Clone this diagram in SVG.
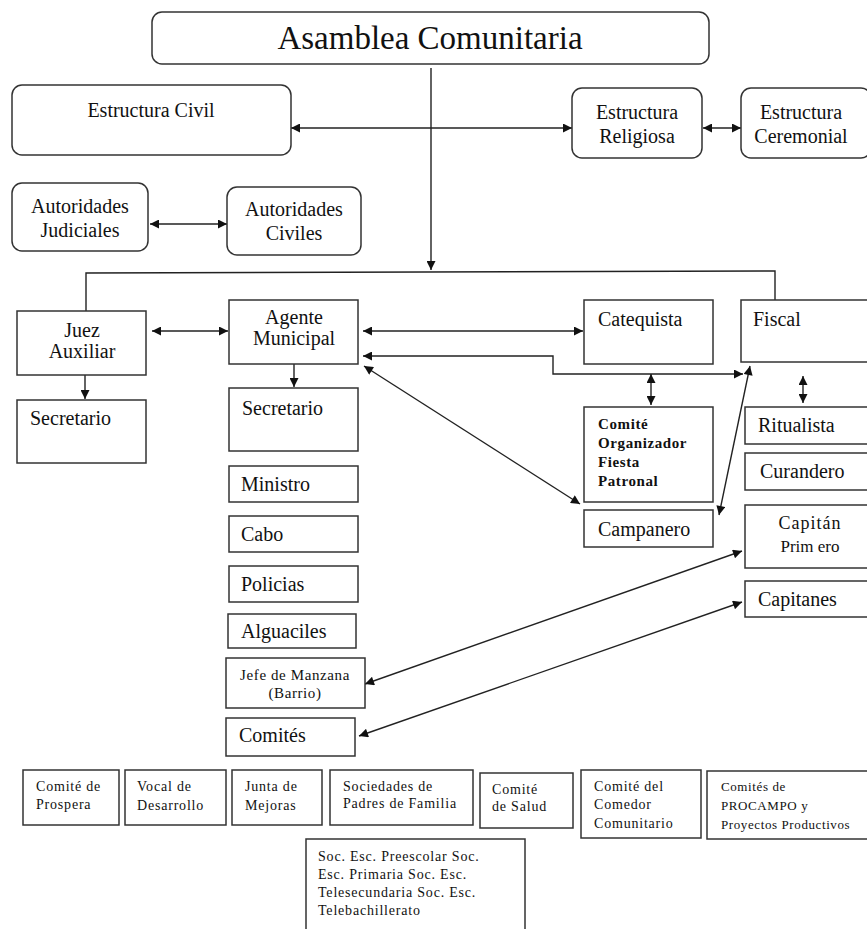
<svg xmlns="http://www.w3.org/2000/svg" width="867" height="929" viewBox="0 0 867 929">
<defs>
<marker id="ah" viewBox="0 0 10 10" refX="10" refY="5" markerWidth="10" markerHeight="9" markerUnits="userSpaceOnUse" orient="auto-start-reverse">
<path d="M0,0 L10,5 L0,10 z" fill="#111"/>
</marker>
<style>
.b{fill:#fff;stroke:#333;stroke-width:1.5}
.t{font-family:"Liberation Serif","Times New Roman",serif;fill:#111}
.c{fill:none;stroke:#222;stroke-width:1.4}
.s{font-size:20px}
.x{font-size:14px;letter-spacing:0.8px}
.bo{font-size:15px;font-weight:bold;letter-spacing:0.6px}
</style>
</defs>
<rect width="867" height="929" fill="#fff"/>
<g id="connectors">
<line class="c" x1="431" y1="68" x2="431" y2="270" marker-end="url(#ah)"/>
<polyline class="c" points="86,311 86,273 775,271 775,300"/>
<line class="c" x1="291" y1="128" x2="572" y2="128" marker-start="url(#ah)" marker-end="url(#ah)"/>
<line class="c" x1="703" y1="128" x2="741" y2="128" marker-start="url(#ah)" marker-end="url(#ah)"/>
<line class="c" x1="150" y1="224" x2="227" y2="224" marker-start="url(#ah)" marker-end="url(#ah)"/>
<line class="c" x1="152" y1="331" x2="228" y2="331" marker-start="url(#ah)" marker-end="url(#ah)"/>
<line class="c" x1="85" y1="375" x2="85" y2="399" marker-end="url(#ah)"/>
<line class="c" x1="294" y1="364" x2="294" y2="387" marker-end="url(#ah)"/>
<line class="c" x1="363" y1="331" x2="583" y2="331" marker-start="url(#ah)" marker-end="url(#ah)"/>
<polyline class="c" points="363,356 553,356 553,374 743,374" marker-start="url(#ah)" marker-end="url(#ah)"/>
<line class="c" x1="364" y1="366" x2="580" y2="504" marker-start="url(#ah)" marker-end="url(#ah)"/>
<line class="c" x1="651" y1="374" x2="651" y2="405" marker-start="url(#ah)" marker-end="url(#ah)"/>
<line class="c" x1="750" y1="366" x2="719" y2="515" marker-start="url(#ah)" marker-end="url(#ah)"/>
<line class="c" x1="803" y1="376" x2="803" y2="403" marker-start="url(#ah)" marker-end="url(#ah)"/>
<line class="c" x1="742" y1="551" x2="365" y2="684" marker-start="url(#ah)" marker-end="url(#ah)"/>
<line class="c" x1="742" y1="602" x2="359" y2="736" marker-start="url(#ah)" marker-end="url(#ah)"/>
</g>
<g id="asamblea"><rect class="b" x="152" y="12" width="557" height="52" rx="10"/><text class="t" x="430" y="49" text-anchor="middle" font-size="33">Asamblea Comunitaria</text></g>
<g id="estructura-civil"><rect class="b" x="12" y="85" width="279" height="70" rx="10"/><text class="t s" x="151" y="117" text-anchor="middle">Estructura Civil</text></g>
<g id="estructura-religiosa"><rect class="b" x="572" y="88" width="130" height="70" rx="10"/><text class="t s" x="637" y="119" text-anchor="middle">Estructura</text><text class="t s" x="637" y="143" text-anchor="middle">Religiosa</text></g>
<g id="estructura-ceremonial"><rect class="b" x="741" y="88" width="130" height="70" rx="10"/><text class="t s" x="801" y="119" text-anchor="middle">Estructura</text><text class="t s" x="801" y="143" text-anchor="middle">Ceremonial</text></g>
<g id="autoridades-judiciales"><rect class="b" x="12" y="183" width="136" height="68" rx="10"/><text class="t s" x="80" y="213" text-anchor="middle">Autoridades</text><text class="t s" x="80" y="237" text-anchor="middle">Judiciales</text></g>
<g id="autoridades-civiles"><rect class="b" x="227" y="187" width="134" height="68" rx="10"/><text class="t s" x="294" y="216" text-anchor="middle">Autoridades</text><text class="t s" x="294" y="240" text-anchor="middle">Civiles</text></g>
<g id="juez-auxiliar"><rect class="b" x="17" y="311" width="129" height="64"/><text class="t s" x="82" y="337" text-anchor="middle">Juez</text><text class="t s" x="82" y="358" text-anchor="middle">Auxiliar</text></g>
<g id="agente-municipal"><rect class="b" x="229" y="300" width="129" height="64"/><text class="t s" x="294" y="324" text-anchor="middle">Agente</text><text class="t s" x="294" y="345" text-anchor="middle">Municipal</text></g>
<g id="secretario-juez"><rect class="b" x="17" y="400" width="129" height="63"/><text class="t s" x="30" y="425">Secretario</text></g>
<g id="secretario-agente"><rect class="b" x="229" y="388" width="129" height="63"/><text class="t s" x="242" y="415">Secretario</text></g>
<g id="ministro"><rect class="b" x="229" y="466" width="129" height="36"/><text class="t s" x="241" y="491">Ministro</text></g>
<g id="cabo"><rect class="b" x="229" y="516" width="129" height="36"/><text class="t s" x="241" y="541">Cabo</text></g>
<g id="policias"><rect class="b" x="229" y="566" width="129" height="36"/><text class="t s" x="241" y="591">Policias</text></g>
<g id="alguaciles"><rect class="b" x="228" y="614" width="128" height="34"/><text class="t s" x="241" y="638">Alguaciles</text></g>
<g id="jefe-manzana"><rect class="b" x="226" y="658" width="139" height="50"/><text class="t" font-size="15" letter-spacing="0.6" x="295" y="680" text-anchor="middle">Jefe de Manzana</text><text class="t" font-size="15" letter-spacing="0.6" x="295" y="698" text-anchor="middle">(Barrio)</text></g>
<g id="comites"><rect class="b" x="226" y="718" width="129" height="38"/><text class="t s" x="239" y="742">Comités</text></g>
<g id="catequista"><rect class="b" x="584" y="300" width="129" height="64"/><text class="t s" x="598" y="326">Catequista</text></g>
<g id="fiscal"><rect class="b" x="741" y="300" width="130" height="62"/><text class="t s" x="753" y="326">Fiscal</text></g>
<g id="comite-organizador"><rect class="b" x="584" y="407" width="129" height="95"/><text class="t bo" x="598" y="429">Comité</text><text class="t bo" x="598" y="448">Organizador</text><text class="t bo" x="598" y="467">Fiesta</text><text class="t bo" x="598" y="486">Patronal</text></g>
<g id="campanero"><rect class="b" x="584" y="510" width="129" height="37"/><text class="t s" x="598" y="536">Campanero</text></g>
<g id="ritualista"><rect class="b" x="745" y="407" width="126" height="37"/><text class="t s" x="758" y="432">Ritualista</text></g>
<g id="curandero"><rect class="b" x="745" y="453" width="126" height="37"/><text class="t s" x="760" y="478">Curandero</text></g>
<g id="capitan-primero"><rect class="b" x="745" y="505" width="126" height="63"/><text class="t" font-size="18" letter-spacing="1" x="810" y="529" text-anchor="middle">Capitán</text><text class="t" font-size="17" x="810" y="552" text-anchor="middle">Prim ero</text></g>
<g id="capitanes"><rect class="b" x="745" y="581" width="126" height="36"/><text class="t s" x="758" y="606">Capitanes</text></g>
<g id="comite-prospera"><rect class="b" x="23" y="770" width="96" height="55"/><text class="t x" x="36" y="791">Comité de</text><text class="t x" x="36" y="809">Prospera</text></g>
<g id="vocal-desarrollo"><rect class="b" x="125" y="770" width="101" height="55"/><text class="t x" x="137" y="791">Vocal de</text><text class="t x" x="137" y="810">Desarrollo</text></g>
<g id="junta-mejoras"><rect class="b" x="232" y="770" width="90" height="55"/><text class="t x" x="245" y="791">Junta de</text><text class="t x" x="245" y="810">Mejoras</text></g>
<g id="sociedades-padres"><rect class="b" x="330" y="770" width="143" height="55"/><text class="t x" x="343" y="791">Sociedades de</text><text class="t x" x="343" y="808">Padres de Familia</text></g>
<g id="comite-salud"><rect class="b" x="480" y="773" width="93" height="55"/><text class="t x" x="492" y="794">Comité</text><text class="t x" x="492" y="811">de Salud</text></g>
<g id="comite-comedor"><rect class="b" x="581" y="770" width="120" height="68"/><text class="t x" x="594" y="791">Comité del</text><text class="t x" x="594" y="809">Comedor</text><text class="t x" x="594" y="828">Comunitario</text></g>
<g id="comites-procampo"><rect class="b" x="707" y="771" width="162" height="68"/><text class="t" font-size="13" letter-spacing="0.6" x="721" y="791">Comités de</text><text class="t" font-size="13" letter-spacing="0.6" x="721" y="810">PROCAMPO y</text><text class="t" font-size="13" letter-spacing="0.6" x="721" y="829">Proyectos Productivos</text></g>
<g id="soc-esc"><rect class="b" x="306" y="839" width="219" height="95"/><text class="t x" x="318" y="861">Soc. Esc. Preescolar Soc.</text><text class="t x" x="318" y="879">Esc. Primaria Soc. Esc.</text><text class="t x" x="318" y="897">Telesecundaria Soc. Esc.</text><text class="t x" x="318" y="915">Telebachillerato</text></g>
</svg>
